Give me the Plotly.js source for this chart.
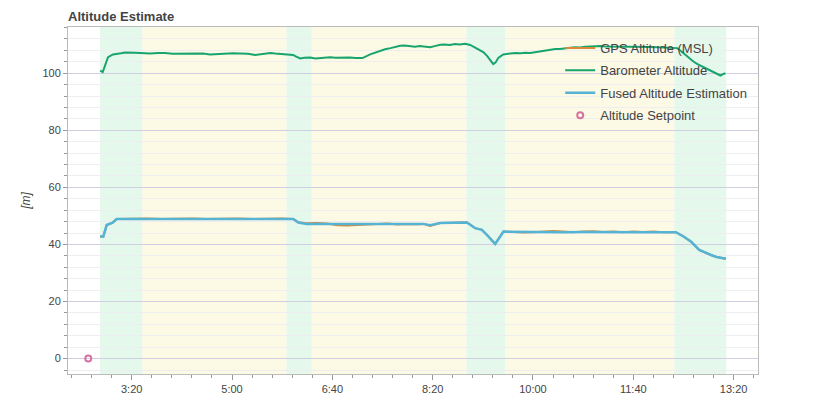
<!DOCTYPE html>
<html>
<head>
<meta charset="utf-8">
<script src="https://cdn.plot.ly/plotly-3.0.1.min.js"></script>
<style>html,body{margin:0;padding:0;background:#fff;}#chart{width:840px;height:400px;}</style>
</head>
<body>
<div id="chart"></div>
<script>
// time in seconds
const baroT = [168.5,171.1,176.4,181.4,189.3,193.3,203.3,210.5,218.3,226.0,233.2,241.0,248.2,256.0,263.2,271.0,278.1,286.0,293.1,301.0,308.0,316.0,323.0,328.0,333.0,338.0,343.0,348.0,352.9,356.0,360.9,364.0,367.9,372.0,377.9,383.0,387.8,392.0,397.8,403.0,407.8,412.0,417.7,423.0,427.7,430.0,437.7,445.0,452.6,458.0,462.6,467.6,472.0,477.0,482.5,487.0,492.0,497.5,502.0,507.5,512.0,517.0,522.4,527.0,532.4,537.4,542.4,547.4,550.8,554.4,557.5,560.4,562.8,565.4,570.3,576.0,582.3,588.0,592.0,597.3,602.0,607.3,612.0,617.0,622.2,627.0,632.0,637.2,642.0,647.0,652.0,657.1,662.0,667.0,672.0,677.0,687.0,697.0,707.0,717.0,724.0,731.9,738.0,743.9,748.0,751.9,755.0,759.9,764.0,769.8,775.0,779.8,783.0,786.8,789.0,791.8];
const baroAlt = [100.9,100.4,105.6,106.6,107.0,107.3,107.2,107.0,106.9,107.1,107.1,106.8,106.8,107.0,107.0,106.9,106.6,106.8,106.9,107.0,106.9,106.8,106.4,106.7,107.0,107.1,106.9,106.8,106.8,106.7,106.4,105.8,105.2,105.4,105.5,105.2,105.3,105.5,105.6,105.4,105.4,105.6,105.5,105.3,105.2,105.3,106.6,107.6,108.4,108.8,109.2,109.6,109.7,109.5,109.3,109.5,109.2,109.1,109.5,110.0,110.1,109.9,110.2,110.1,110.3,109.9,109.0,107.8,107.3,106.0,104.6,103.2,103.8,105.4,106.6,106.9,107.1,107.0,107.2,107.1,107.4,107.8,107.9,108.2,108.5,108.5,108.8,108.9,109.1,109.0,109.3,109.4,109.3,109.5,109.4,109.4,109.3,109.3,109.2,109.2,109.1,109.0,108.9,108.8,107.6,106.5,105.4,104.1,103.2,102.2,101.4,100.6,99.9,99.2,99.6,100.0];

const fusedT = [168.5,171.7,175.1,178.4,181.0,185.0,200.0,220.0,240.0,260.0,280.0,300.0,320.0,340.0,360.9,366.1,374.5,390.0,410.0,430.0,450.0,470.0,490.8,497.5,507.5,520.0,534.1,542.4,549.1,555.0,562.3,570.6,590.0,610.0,630.0,650.0,670.0,690.0,710.0,730.0,742.4,750.0,757.4,765.7,771.0,777.4,783.0,787.3,792.3];
const fusedAlt = [42.8,42.8,46.8,47.4,47.6,48.9,48.9,48.9,48.9,48.9,48.9,48.9,48.9,48.9,48.9,47.7,47.2,47.2,47.2,47.2,47.2,47.2,47.2,46.7,47.5,47.6,47.7,45.7,45.1,43.0,40.2,44.5,44.4,44.4,44.3,44.4,44.3,44.4,44.3,44.3,44.3,42.8,41.0,38.1,37.2,36.3,35.6,35.2,35.0];

const gpsT = [168.5,171.7,175.1,178.4,181.0,185.0,200.0,215.0,230.0,245.0,260.0,275.0,290.0,305.0,320.0,335.0,350.0,360.9,366.1,374.5,385.0,395.0,405.0,415.0,425.0,435.0,445.0,455.0,465.0,475.0,485.0,490.8,497.5,507.5,520.0,534.1,542.4,549.1,555.0,562.3,570.6,580.0,590.0,600.0,610.0,620.0,630.0,640.0,650.0,660.0,670.0,680.0,690.0,700.0,710.0,720.0,730.0,742.4,750.0,757.4,765.7,771.0,777.4,783.0,787.3,792.3];
const gpsAlt = [42.8,42.8,46.8,47.4,47.6,48.9,49.0,49.1,48.9,49.0,49.1,48.9,49.0,49.1,48.9,49.0,49.1,48.9,47.8,47.4,47.5,47.3,46.7,46.6,46.8,47.0,47.1,47.3,47.0,47.2,47.1,47.2,46.5,47.5,47.6,47.8,45.7,45.1,43.0,40.2,44.5,44.3,44.2,44.3,44.4,44.7,44.5,44.3,44.5,44.6,44.4,44.5,44.3,44.5,44.4,44.5,44.3,44.3,42.8,41.0,38.1,37.2,36.3,35.6,35.2,35.0];

const setpointT = [156.7];
const setpointAlt = [0];

// flight mode intervals [start, end] in seconds, and mode kind
const modeStart = [168.4, 210.6, 354.3, 379.5, 533.7, 572.3, 740.8];
const modeEnd   = [210.6, 354.3, 379.5, 533.7, 572.3, 740.8, 792.7];
const modeKind  = ['a','b','a','b','a','b','a'];

const tickVals = [200,300,400,500,600,700,800];
const tickText = ['3:20','5:00','6:40','8:20','10:00','11:40','13:20'];

const kindColor = {a:'rgb(229,248,236)', b:'rgb(252,249,229)'};
const shapes = modeStart.map((s,i)=>({
  type:'rect', xref:'x', yref:'paper', x0:s, x1:modeEnd[i], y0:0, y1:1,
  fillcolor:kindColor[modeKind[i]], line:{width:0}, layer:'below'
}));

const traces = [
  {x:gpsT, y:gpsAlt, name:'GPS Altitude (MSL)', legendgroup:'g1', mode:'lines', line:{color:'#d9893a', width:2}},
  {x:baroT, y:baroAlt, name:'Barometer Altitude', legendgroup:'g2', mode:'lines', line:{color:'#17a56d', width:2}},
  {x:fusedT, y:fusedAlt, name:'Fused Altitude Estimation', legendgroup:'g3', mode:'lines', line:{color:'#55b3d4', width:2.5}},
  {x:setpointT, y:setpointAlt, name:'Altitude Setpoint', legendgroup:'g4', mode:'markers',
   marker:{symbol:'circle-open', color:'#d4739f', size:6, line:{width:2, color:'#d4739f'}}}
];

const layout = {
  width:840, height:400,
  margin:{l:68, r:82, t:27, b:26},
  paper_bgcolor:'#fff', plot_bgcolor:'rgba(0,0,0,0)',
  font:{family:'Liberation Sans, Arial, sans-serif', size:11, color:'#444'},
  title:{text:'<b>Altitude Estimate</b>', x:68/840, xanchor:'left', y:1-16/400, yanchor:'middle',
         font:{size:13, color:'#444'}},
  showlegend:true,
  legend:{x:(560-68)/689.7, xanchor:'left', y:1-(33-27)/347, yanchor:'top',
          bgcolor:'rgba(255,255,255,0)', font:{size:13, color:'#444'}, tracegroupgap:2.5},
  xaxis:{range:[136.5,824.3], tickvals:tickVals, ticktext:tickText, ticks:'outside', ticklen:5,
         tickcolor:'#999', showgrid:false, zeroline:false, showline:true, linecolor:'#bbb', mirror:true,
         minor:{dtick:20, tick0:0, ticks:'outside', ticklen:3, tickcolor:'#999', showgrid:false},
         tickfont:{size:11, color:'#444'}},
  yaxis:{range:[-5.4,116.2], dtick:20, tick0:0, ticks:'outside', ticklen:4, tickcolor:'#999',
         showgrid:true, gridcolor:'rgb(208,206,224)', zeroline:false, showline:true, linecolor:'#bbb', mirror:true,
         minor:{dtick:4, tick0:0, ticks:'outside', ticklen:3, tickcolor:'#999', showgrid:true, gridcolor:'rgb(238,238,242)'},
         title:{text:'<i>[m]</i>', font:{size:12, color:'#444'}, standoff:9},
         tickfont:{size:11, color:'#444'}},
  shapes:shapes
};

Plotly.newPlot('chart', traces, layout, {displayModeBar:false, staticPlot:true});
</script>
</body>
</html>
